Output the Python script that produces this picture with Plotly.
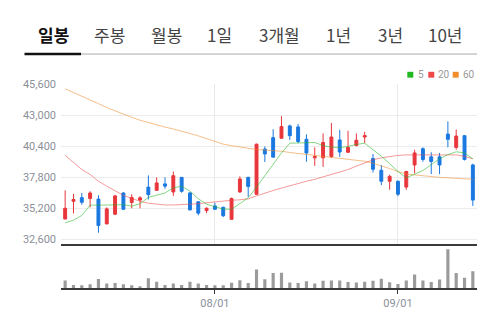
import plotly.graph_objects as go

dates = ["2023-07-06","2023-07-07","2023-07-10","2023-07-11","2023-07-12","2023-07-13","2023-07-14",
         "2023-07-17","2023-07-18","2023-07-19","2023-07-20","2023-07-21","2023-07-24","2023-07-25",
         "2023-07-26","2023-07-27","2023-07-28","2023-07-31",
         "2023-08-01","2023-08-02","2023-08-03","2023-08-04","2023-08-07","2023-08-08","2023-08-09",
         "2023-08-10","2023-08-11","2023-08-14","2023-08-16","2023-08-17","2023-08-18","2023-08-21",
         "2023-08-22","2023-08-23","2023-08-24","2023-08-25","2023-08-28","2023-08-29","2023-08-30",
         "2023-08-31",
         "2023-09-01","2023-09-04","2023-09-05","2023-09-06","2023-09-07","2023-09-08","2023-09-11",
         "2023-09-12","2023-09-13","2023-09-14"]

open_ = [34284, 35773, 36075, 36002, 35953, 33875, 34693, 36468, 35674, 35871, 36959, 36689, 37229, 36550,
         37777, 36468, 35732, 34995, 35380, 35265, 34259, 36550, 37777, 36362, 40149, 41106, 41049, 42088,
         42006, 40967, 39413, 39413, 39519, 40910, 39879, 40452, 41155, 39355, 38374, 37450, 37450, 36959,
         38816, 40173, 39495, 39495, 41400, 40288, 41270, 38816]
high = [36689, 36386, 36468, 36615, 36280, 35265, 36304, 36525, 36362, 36198, 37940, 37777, 37777, 38268,
        37800, 36550, 35732, 35265, 35650, 35323, 36083, 37859, 37830, 40600, 40370, 41809, 42906, 42194,
        42251, 41376, 40288, 41458, 42333, 41760, 41679, 41458, 41597, 39740, 38816, 37998, 37507, 38325,
        40092, 40288, 39879, 39822, 42464, 41785, 41300, 38922]
low = [34284, 34750, 35486, 35265, 33139, 33850, 34610, 35050, 35184, 35184, 35920, 36632, 36820, 36223,
       36492, 34995, 34586, 34775, 35053, 34447, 34259, 36492, 36141, 36300, 39061, 39470, 41049, 40910,
       40640, 39086, 38734, 38652, 39413, 39495, 39822, 40370, 40640, 38186, 37122, 36738, 36198, 36738,
       38104, 39086, 38047, 38047, 40288, 40092, 39192, 35380]
close = [35184, 35920, 35691, 36468, 33744, 35135, 36223, 35102, 36083, 36059, 36329, 37310, 37041, 37916,
         36607, 35053, 34775, 35184, 35102, 34562, 36002, 37638, 37016, 40558, 39740, 39470, 42030, 41270,
         40779, 39822, 39519, 40697, 41155, 39904, 40288, 40885, 41270, 38456, 37450, 37858, 36362, 38268,
         39822, 39274, 39110, 38816, 40967, 41237, 39274, 35871]

ma5 = [33973, 34177, 34586, 35445, 35445, 35445, 35445, 35486, 35364, 35568, 36100, 36280, 36468, 36901,
       37024, 36632, 35977, 35527, 35323, 35118, 35102, 35593, 36059, 36959, 37940, 38881, 39822, 40640,
       40640, 40640, 40697, 40435, 40313, 40272, 40370, 40533, 40640, 40092, 39552, 38922, 38268, 37736,
       38063, 38349, 38840, 39331, 39683, 39920, 39822, 39331]
ma20 = [39617, 39004, 38431, 38022, 37450, 37041, 36632, 36263, 36018, 35773, 35609, 35511, 35462, 35462,
        35486, 35527, 35568, 35650, 35732, 35773, 35854, 35895, 35977, 36223, 36468, 36672, 36877, 37081,
        37286, 37450, 37613, 37818, 38022, 38186, 38431, 38717, 39004, 39249, 39413, 39535, 39617, 39658,
        39658, 39699, 39699, 39699, 39699, 39658, 39535, 39331]
ma60 = [45196, 44893, 44607, 44280, 43953, 43625, 43339, 43053, 42807, 42562, 42358, 42153, 41989, 41826,
        41662, 41458, 41253, 41008, 40803, 40558, 40435, 40313, 40190, 40108, 40067, 40026, 39961, 39863,
        39781, 39683, 39617, 39535, 39470, 39413, 39331, 39208, 39126, 38963, 38758, 38513, 38268, 38063,
        37981, 37899, 37834, 37777, 37736, 37695, 37654, 37613]

volume = [77000, 30000, 28000, 38000, 93000, 46000, 50000, 38000, 28000, 16000, 100000, 63000, 31000, 45000,
          31000, 63000, 45000, 31000, 28000, 28000, 55000, 80000, 51000, 190000, 90000, 153000, 157000, 56000,
          50000, 68000, 45000, 73000, 78000, 78000, 62000, 56000, 63000, 75000, 95000, 58000, 40000, 78000,
          138000, 76000, 61000, 88000, 398000, 153000, 105000, 171000]

price_ticks = [32600, 35200, 37800, 40400, 43000, 45600]
x_tick_dates = ["2023-08-01", "2023-09-01"]
x_tick_text = ["08/01", "09/01"]
tabs = ["일봉", "주봉", "월봉", "1일", "3개월", "1년", "3년", "10년"]
ma_names = ["5", "20", "60"]

UP = "#e8363c"
DOWN = "#1a78e0"
MA_COLORS = ["#22b822", "#ef4848", "#f08c2a"]

W, H = 500, 322
L, R, T, B = 61, 477, 84, 293
PW, PH = R - L, B - T


def xp(px):
    return (px - L) / PW


def yp(py):
    return (B - py) / PH


fig = go.Figure()
fig.add_trace(go.Candlestick(
    x=dates, open=open_, high=high, low=low, close=close,
    increasing=dict(line=dict(color=UP, width=1), fillcolor=UP),
    decreasing=dict(line=dict(color=DOWN, width=1), fillcolor=DOWN),
    xaxis="x", yaxis="y", showlegend=False, hoverinfo="skip"))

for vals, col, nm in zip([ma60, ma20, ma5], MA_COLORS[::-1], ma_names[::-1]):
    fig.add_trace(go.Scatter(x=dates, y=vals, mode="lines", name=nm,
                             line=dict(color=col, width=1), opacity=0.55,
                             xaxis="x", yaxis="y", showlegend=False, hoverinfo="skip"))

fig.add_trace(go.Bar(x=dates, y=volume, marker=dict(color="#9b9b9b", line=dict(width=0)),
                     width=0.38, xaxis="x2", yaxis="y2", showlegend=False, hoverinfo="skip"))

split = yp(247.5)
vol_top_px = 43.9
fig.update_layout(
    width=W, height=H,
    margin=dict(l=L, r=W - R, t=T, b=H - B, pad=0),
    paper_bgcolor="white", plot_bgcolor="white",
    boxgap=0.5,
    font=dict(family="Roboto, 'Noto Sans CJK KR', sans-serif", color="#8c9099", size=11),
    xaxis=dict(type="category", domain=[0, 1], anchor="y", range=[-0.5, len(dates) - 0.5],
               rangeslider=dict(visible=False), showticklabels=False,
               tickvals=x_tick_dates, ticks="", showgrid=True, gridcolor="#e9e9e9", gridwidth=1,
               showline=True, linecolor="#3a3a3a", linewidth=2, zeroline=False),
    yaxis=dict(domain=[split, 1], range=[32226, 45600], tickvals=price_ticks,
               tickformat=",d", ticks="", showgrid=True, gridcolor="#ececec", gridwidth=1,
               zeroline=False, showline=False, ticklabelstandoff=4,
               tickfont=dict(size=11, color="#8c9099")),
    xaxis2=dict(type="category", domain=[0, 1], anchor="y2", range=[-0.5, len(dates) - 0.5],
                matches="x", tickvals=x_tick_dates, ticktext=x_tick_text,
                ticks="outside", ticklen=4, tickwidth=1, tickcolor="#333333",
                showgrid=False, showline=True, linecolor="#3a3a3a", linewidth=2,
                tickfont=dict(size=11, color="#8c9099")),
    yaxis2=dict(domain=[0, vol_top_px / PH], range=[0, 439000], showticklabels=False,
                showgrid=False, zeroline=False, ticks=""),
)

annotations = []
tab_centers = [53, 109.7, 166.7, 219.7, 279, 338, 390, 445]
for i, (t, cx) in enumerate(zip(tabs, tab_centers)):
    annotations.append(dict(
        x=xp(cx), y=yp(33.5), xref="paper", yref="paper", text=("<b>%s</b>" % t) if i == 0 else t,
        showarrow=False, xanchor="center", yanchor="middle",
        font=dict(family="Noto Sans CJK KR", size=17, color="#111111" if i == 0 else "#444444")))

# legend
leg_text_x = [415.5, 435.5, 460.5]
leg_sq_x = [407.3, 428.3, 452.7]
shapes = []
for nm, col, tx, sx in zip(ma_names, MA_COLORS, leg_text_x, leg_sq_x):
    shapes.append(dict(type="rect", xref="paper", yref="paper",
                       x0=xp(sx), x1=xp(sx + 6), y0=yp(71.5), y1=yp(77.5),
                       fillcolor=col, line=dict(width=0)))
    annotations.append(dict(x=xp(tx), y=yp(74.5), xref="paper", yref="paper", text=nm,
                            showarrow=False, xanchor="left", yanchor="middle",
                            font=dict(size=10, color="#999999")))

# tab underline
shapes.append(dict(type="line", xref="paper", yref="paper", x0=xp(81), x1=xp(477),
                   y0=yp(53.3), y1=yp(53.3), line=dict(color="#aaaaaa", width=1)))
shapes.append(dict(type="line", xref="paper", yref="paper", x0=xp(24.5), x1=xp(81),
                   y0=yp(53.3), y1=yp(53.3), line=dict(color="#111111", width=2.5)))

fig.update_layout(annotations=annotations, shapes=shapes)
fig.write_html("out.html")
